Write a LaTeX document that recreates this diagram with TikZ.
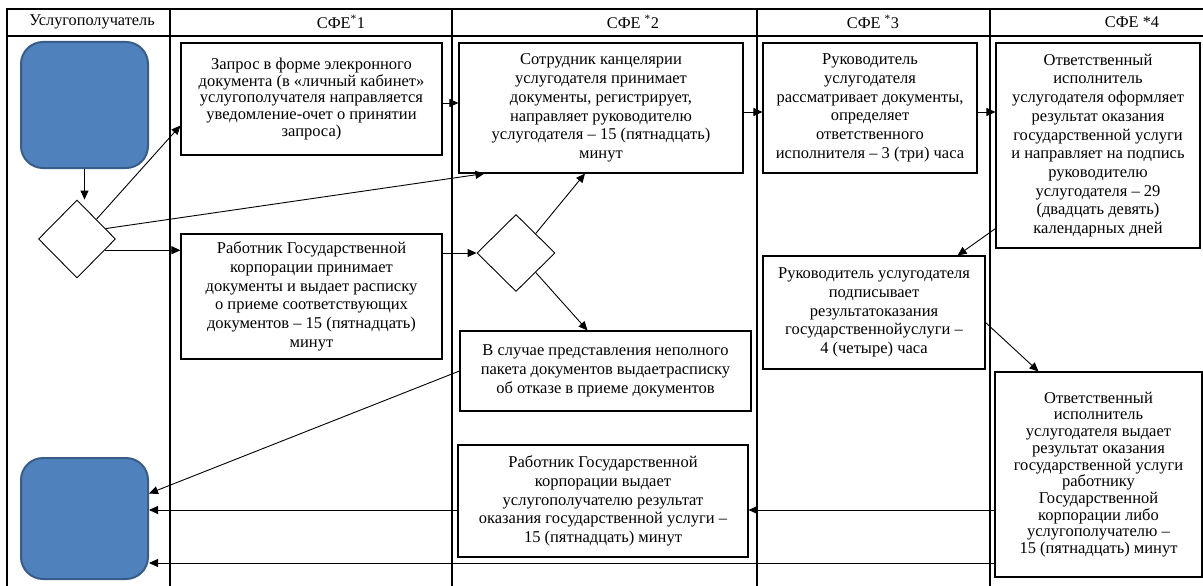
\documentclass[tikz,border=0pt]{standalone}
\usepackage{fontspec}
\setmainfont{Liberation Serif}
\usepackage{tikz}
\usetikzlibrary{shapes.geometric, arrows.meta, positioning, calc}

\definecolor{clientfill}{HTML}{4F81BD}
\definecolor{clientedge}{HTML}{385D8A}

\tikzset{
  txt/.style={font=\rmfamily\fontsize{16.5}{18.7}\selectfont},
  tight/.style={font=\rmfamily\fontsize{16.5}{16.7}\selectfont},
  head/.style={font=\rmfamily\fontsize{16.3}{18}\selectfont},
  proc/.style={txt, draw, line width=1.1pt, align=center, inner sep=0pt},
  decision/.style={draw, diamond, line width=0.9pt, inner sep=0pt},
  client/.style={draw=clientedge, fill=clientfill, line width=2pt, rounded corners=22pt},
  flow/.style={-{Triangle[length=9pt,width=8pt]}, line width=0.9pt},
  lane/.style={line width=1.2pt}
}

\begin{document}
\begin{tikzpicture}[x=1pt, y=-1pt]
\useasboundingbox (0,0) rectangle (1203,586);

% Swimlane grid
\draw[lane] (1203,9) -- (7,9) -- (7,586);
\draw[lane] (7,36) -- (1203,36);
\foreach \x in {170,452,757,990} \draw[lane] (\x,9) -- (\x,586);

% Lane headers
\node[head] (hClient) at (92,22) {Услугополучатель};
\node[head] (hSfe1) at (341,22) {СФЕ\textsuperscript{*}1};
\node[head] (hSfe2) at (633,22) {СФЕ \textsuperscript{*}2};
\node[head] (hSfe3) at (873,22) {СФЕ \textsuperscript{*}3};
\node[head] (hSfe4) at (1132,22) {СФЕ *4};

% Service recipient
\node[client, minimum width=127pt, minimum height=126pt] (clientIn) at (84.5,105) {};
\node[client, minimum width=127pt, minimum height=121pt] (clientOut) at (84.5,518.5) {};
\node[decision, minimum width=77pt, minimum height=78pt] (choiceIn) at (77,239) {};

% SFE 1
\node[proc, tight, minimum width=261pt, minimum height=112pt] (request) at (311.5,99)
  {Запрос в форме элекронного\\документа (в «личный кабинет»\\услугополучателя направляется\\уведомление-очет о принятии\\запроса)};
\node[proc, minimum width=261pt, minimum height=125pt] (corpAccept) at (311.5,296.5)
  {Работник Государственной\\корпорации принимает\\документы и выдает расписку\\о приеме соответствующих\\документов – 15 (пятнадцать)\\минут};

% SFE 2
\node[proc, minimum width=284pt, minimum height=130pt] (office) at (601,108)
  {Сотрудник канцелярии\\услугодателя принимает\\документы, регистрирует,\\направляет руководителю\\услугодателя – 15 (пятнадцать)\\минут};
\node[decision, minimum width=78pt, minimum height=77pt] (choiceDocs) at (516,253) {};
\node[proc, minimum width=291pt, minimum height=80pt] (refusal) at (605.5,371)
  {В случае представления неполного\\пакета документов выдаетрасписку\\об отказе в приеме документов};
\node[proc, minimum width=290pt, minimum height=112pt] (corpIssue) at (603,501)
  {Работник Государственной\\корпорации выдает\\услугополучателю результат\\оказания государственной услуги –\\15 (пятнадцать) минут};

% SFE 3
\node[proc, minimum width=214pt, minimum height=130pt] (headReview) at (870,108)
  {Руководитель\\услугодателя\\рассматривает документы,\\определяет\\ответственного\\исполнителя – 3 (три) часа};
\node[proc, minimum width=222pt, minimum height=113pt] (headSign) at (874,312.5)
  {Руководитель услугодателя\\подписывает\\результатоказания\\государственнойуслуги –\\4 (четыре) часа};

% SFE 4
\node[proc, minimum width=204pt, minimum height=205pt] (execPrepare) at (1098,145.5)
  {Ответственный\\исполнитель\\услугодателя оформляет\\результат оказания\\государственной услуги\\и направляет на подпись\\руководителю\\услугодателя – 29\\(двадцать девять)\\календарных дней};
\node[proc, tight, minimum width=207pt, minimum height=205pt] (execIssue) at (1098.5,474.5)
  {Ответственный\\исполнитель\\услугодателя выдает\\результат оказания\\государственной услуги\\работнику\\Государственной\\корпорации либо\\услугополучателю –\\15 (пятнадцать) минут};

% Connectors
\draw[flow] (clientIn.south) -- (clientIn.south |- choiceIn.north);
\draw[flow] (choiceIn.north east) -- ([yshift=30pt]request.south west);
\draw[flow] (choiceIn.20) -- ([xshift=26pt]office.south west);
\draw[flow] (choiceIn.-22) -- (choiceIn.-22 -| corpAccept.west);
\draw[flow] ([yshift=-4pt]request.east) -- ([yshift=-4pt]request.east -| office.west);
\draw[flow] ([yshift=-4pt]office.east) -- ([yshift=-4pt]headReview.west);
\draw[flow] ([yshift=-4pt]headReview.east) -- ([yshift=-4pt]headReview.east -| execPrepare.west);
\draw[flow] (corpAccept.east |- choiceDocs.west) -- (choiceDocs.west);
\draw[flow] (choiceDocs.north east) -- ([xshift=-16pt]office.south);
\draw[flow] (choiceDocs.south east) -- ([xshift=-18pt]refusal.north);
\draw[flow] (refusal.west) -- ([yshift=25pt]clientOut.east);
\draw[flow] ([yshift=20pt]execPrepare.south west) -- ([xshift=-28pt]headSign.north east);
\draw[flow] ([yshift=-10pt]headSign.east) -- ([xshift=-60pt]execIssue.north);
\draw[flow] ([yshift=-9pt]corpIssue.east -| execIssue.west) -- ([yshift=-9pt]corpIssue.east);
\draw[flow] ([yshift=-9pt]corpIssue.west) -- ([yshift=-9pt]corpIssue.west -| clientOut.east);
\draw[flow] ([yshift=-88.5pt]execIssue.west) -- ([yshift=-88.5pt]execIssue.west -| clientOut.east);
\end{tikzpicture}
\end{document}
